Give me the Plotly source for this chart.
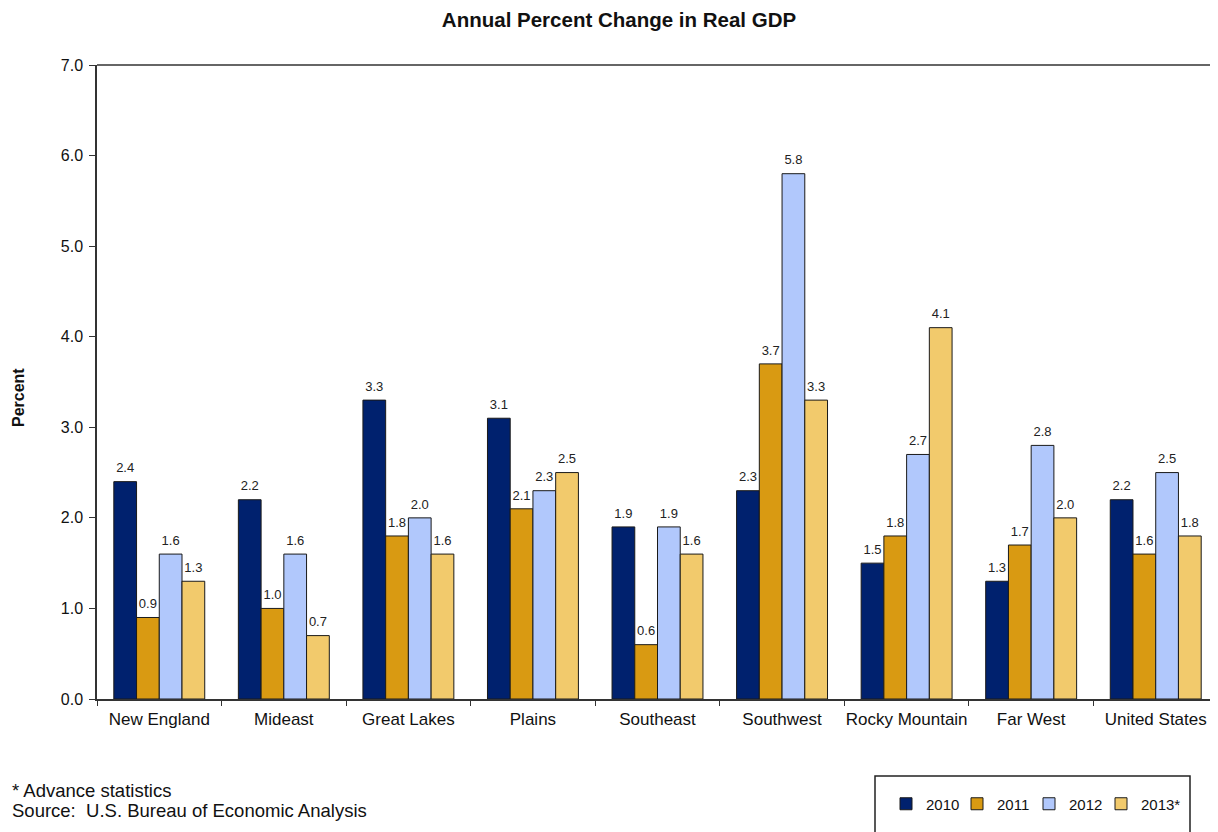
import plotly.graph_objects as go

regions = ["New England", "Mideast", "Great Lakes", "Plains", "Southeast",
           "Southwest", "Rocky Mountain", "Far West", "United States"]
years = ["2010", "2011", "2012", "2013*"]
v2010 = [2.4, 2.2, 3.3, 3.1, 1.9, 2.3, 1.5, 1.3, 2.2]
v2011 = [0.9, 1.0, 1.8, 2.1, 0.6, 3.7, 1.8, 1.7, 1.6]
v2012 = [1.6, 1.6, 2.0, 2.3, 1.9, 5.8, 2.7, 2.8, 2.5]
v2013 = [1.3, 0.7, 1.6, 2.5, 1.6, 3.3, 4.1, 2.0, 1.8]
series = [v2010, v2011, v2012, v2013]
colors = ["#00216E", "#D99A12", "#B1C8FC", "#F2CA6C"]

# page has an 8px body margin; figure is sized so plot area lands at
# page x 97..1218, y 65..699
OFF = 8
W, H = 1210, 824
L, R, T, B = 89, 0, 57, 133
PW = W - L - R
PH = H - T - B
PLOT_LEFT_PAGE = OFF + L
PLOT_BOTTOM_PAGE = OFF + H - B


def px(xp):
    return (xp - PLOT_LEFT_PAGE) / PW


def py(yp):
    return (PLOT_BOTTOM_PAGE - yp) / PH


FONT = "Liberation Sans"
GAP = 0.27
LEGEND_IDS = ["legend", "legend2", "legend3", "legend4"]
LEGEND_X = [886, 957, 1029, 1101]  # page x of each legend entry's left edge

fig = go.Figure()
for i, (name, vals, col) in enumerate(zip(years, series, colors)):
    fig.add_trace(go.Bar(
        x=regions, y=vals, name=name, offsetgroup=str(i), legend=LEGEND_IDS[i],
        marker=dict(color=col, line=dict(color="#1a1a1a", width=1)),
    ))
for i, vals in enumerate(series):
    fig.add_trace(go.Scatter(
        x=regions, y=vals, mode="markers+text", offsetgroup=str(i),
        marker=dict(size=8, color="rgba(0,0,0,0)"),
        text=[f"{v:.1f}" for v in vals], textposition="top center",
        textfont=dict(family=FONT, size=13, color="#222"),
        showlegend=False, hoverinfo="skip", cliponaxis=False,
    ))

legend_common = dict(orientation="h", xanchor="left", yanchor="middle",
                     font=dict(family=FONT, size=15, color="#111"),
                     itemwidth=30, bgcolor="rgba(0,0,0,0)", borderwidth=0)
legends = {}
for lid, lx in zip(LEGEND_IDS, LEGEND_X):
    legends[lid] = dict(legend_common, x=px(lx), y=py(804))

fig.update_layout(
    width=W, height=H,
    margin=dict(l=L, r=R, t=T, b=B, autoexpand=False),
    plot_bgcolor="white", paper_bgcolor="white",
    barmode="group", bargap=GAP, bargroupgap=0,
    scattermode="group", scattergap=GAP,
    font=dict(family=FONT, color="#111"),
    title=dict(text="<b>Annual Percent Change in Real GDP</b>", x=px(619), xref="paper",
               xanchor="center", y=1 - (19.5 - OFF) / H, yanchor="middle",
               font=dict(family=FONT, size=20.5, color="#111")),
    showlegend=True,
    **legends,
)
fig.update_xaxes(
    showline=True, linecolor="#333", linewidth=1.5,
    ticks="outside", tickson="boundaries", ticklen=5, tickcolor="#333",
    tickfont=dict(family=FONT, size=17, color="#111"), ticklabelstandoff=4,
    tickangle=0, automargin=False,
    showgrid=False, mirror=False,
)
fig.update_yaxes(
    range=[0, 7], dtick=1, tickformat=".1f",
    showline=True, linecolor="#333", linewidth=1.5,
    ticks="outside", ticklen=6, tickcolor="#333",
    tickfont=dict(family=FONT, size=16, color="#111"), ticklabelstandoff=3,
    automargin=False,
    showgrid=False, zeroline=False,
)
# top border line of plot frame
fig.add_shape(type="line", xref="paper", yref="paper", x0=0, x1=1, y0=1, y1=1,
              line=dict(color="#333", width=1.5))
# y-axis title
fig.add_annotation(text="<b>Percent</b>", xref="paper", yref="paper",
                   x=px(18), y=py(398),
                   textangle=-90, showarrow=False, xanchor="center", yanchor="middle",
                   font=dict(family=FONT, size=16, color="#111"))
# footnotes
fig.add_annotation(text="* Advance statistics",
                   xref="paper", yref="paper", x=px(10), y=py(790),
                   xanchor="left", yanchor="middle", align="left", showarrow=False,
                   font=dict(family=FONT, size=18.5, color="#111"))
fig.add_annotation(text="Source:  U.S. Bureau of Economic Analysis",
                   xref="paper", yref="paper", x=px(10), y=py(810),
                   xanchor="left", yanchor="middle", align="left", showarrow=False,
                   font=dict(family=FONT, size=18.5, color="#111"))
# legend box
fig.add_shape(type="rect", xref="paper", yref="paper",
              x0=px(875), x1=px(1190),
              y0=py(845), y1=py(776),
              line=dict(color="#222", width=1.5), fillcolor="rgba(0,0,0,0)")

fig.write_html("out.html")
